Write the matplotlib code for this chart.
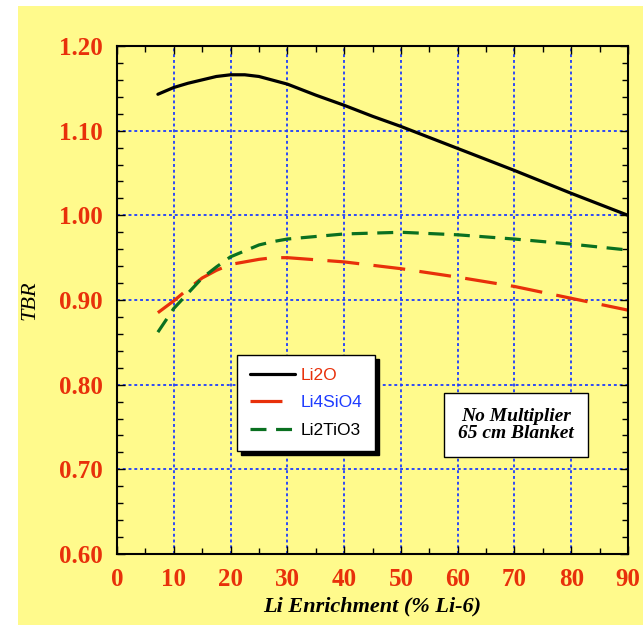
import matplotlib
matplotlib.use("Agg")
import matplotlib.pyplot as plt
from matplotlib.patches import Rectangle

# Data
enrich_li2o = [7.2, 10, 12.5, 15, 17.5, 20, 22.5, 25, 30, 35, 40, 45, 50, 60, 70, 80, 90]
tbr_li2o = [1.143, 1.151, 1.156, 1.160, 1.164, 1.166, 1.166, 1.164, 1.155, 1.142, 1.130, 1.117,
            1.105, 1.079, 1.053, 1.026, 1.000]

enrich_li4sio4 = [7.2, 10, 12.5, 15, 17.5, 20, 25, 27.5, 30, 40, 50, 60, 70, 80, 90]
tbr_li4sio4 = [0.885, 0.899, 0.913, 0.926, 0.935, 0.942, 0.948, 0.950, 0.950, 0.945, 0.937,
               0.927, 0.916, 0.902, 0.888]

enrich_li2tio3 = [7.2, 10, 12.5, 15, 17.5, 20, 25, 27.5, 30, 40, 50, 60, 70, 80, 90]
tbr_li2tio3 = [0.862, 0.890, 0.908, 0.926, 0.939, 0.951, 0.965, 0.969, 0.972, 0.978, 0.980,
               0.977, 0.972, 0.966, 0.959]

series_labels = ["Li2O", "Li4SiO4", "Li2TiO3"]
label_colors = ["#E8300A", "#1E3CFF", "black"]
x_ticks = [0, 10, 20, 30, 40, 50, 60, 70, 80, 90]
y_ticks = [0.60, 0.70, 0.80, 0.90, 1.00, 1.10, 1.20]

bg = "#FFFA8C"
red = "#E8300A"

fig = plt.figure(figsize=(6.43, 6.25), dpi=100)
fig.patch.set_facecolor("white")
fig.patches.append(Rectangle((18 / 643, 0), 1, 1 - 6 / 625, transform=fig.transFigure,
                             facecolor=bg, edgecolor="none", zorder=-10))

ax = fig.add_axes([117 / 643, 1 - 554 / 625, (628 - 117) / 643, (554 - 46) / 625])
ax.set_facecolor(bg)

l1, = ax.plot(enrich_li2o, tbr_li2o, color="black", lw=2.3, solid_capstyle="round",
              solid_joinstyle="round")
l2, = ax.plot(enrich_li4sio4, tbr_li4sio4, color="#E8300A", lw=2.3, dashes=(10, 4.5),
              dash_joinstyle="round")
l3, = ax.plot(enrich_li2tio3, tbr_li2tio3, color="#0A7020", lw=2.3, dashes=(5, 3),
              dash_joinstyle="round")

ax.set_xlim(0, 90)
ax.set_ylim(0.60, 1.20)
ax.set_xticks(x_ticks)
ax.set_yticks(y_ticks)
ax.set_xticks(range(0, 91, 5), minor=True)
ax.set_yticks([0.6 + 0.02 * i for i in range(31)], minor=True)
ax.set_xticklabels([str(v) for v in x_ticks])
ax.set_yticklabels([f"{v:.2f}" for v in y_ticks])

for lab in ax.get_xticklabels() + ax.get_yticklabels():
    lab.set_fontfamily("Liberation Serif")
    lab.set_fontweight("bold")
    lab.set_fontsize(18)
    lab.set_color(red)

ax.tick_params(which="both", direction="in", top=True, right=True, color="black")
ax.tick_params(which="major", length=6, width=1.0, pad=10)
ax.tick_params(which="minor", length=4, width=1.0)

ax.grid(True, which="major", color="#1E3CFF", linestyle=(0, (1.6, 1.6)), linewidth=1.3)
for s in ax.spines.values():
    s.set_linewidth(1.5)
    s.set_color("black")

ax.set_xlabel("Li Enrichment (% Li-6)", fontfamily="Liberation Serif", fontweight="bold",
              fontstyle="italic", fontsize=16, labelpad=4)
ax.set_ylabel("TBR", fontfamily="Liberation Serif", fontstyle="italic", fontsize=16, labelpad=14)

leg = ax.legend([l1, l2, l3], series_labels, loc="upper left",
                bbox_to_anchor=((237 - 117) / 511, 1 - (355 - 46) / 508),
                prop={"family": "Liberation Sans", "size": 12.5}, frameon=True, fancybox=False,
                shadow={"color": "black", "alpha": 1.0, "ox": 3, "oy": -3}, edgecolor="black",
                handlelength=2.6, borderpad=0.75, labelspacing=0.7, handletextpad=0.3,
                borderaxespad=0)
leg.get_frame().set_linewidth(1.0)
leg.get_frame().set_facecolor("white")
for t, c in zip(leg.get_texts(), label_colors):
    t.set_color(c)

ax.text((516 - 117) / 511, 1 - (425 - 46) / 508, "No Multiplier\n65 cm Blanket",
        transform=ax.transAxes, ha="center", va="center", fontfamily="Liberation Serif",
        fontweight="bold", fontstyle="italic", fontsize=14, linespacing=1.05,
        bbox=dict(boxstyle="square,pad=0.75", facecolor="white", edgecolor="black", linewidth=1.0))

fig.savefig("out.png", dpi=100, facecolor=fig.get_facecolor())
